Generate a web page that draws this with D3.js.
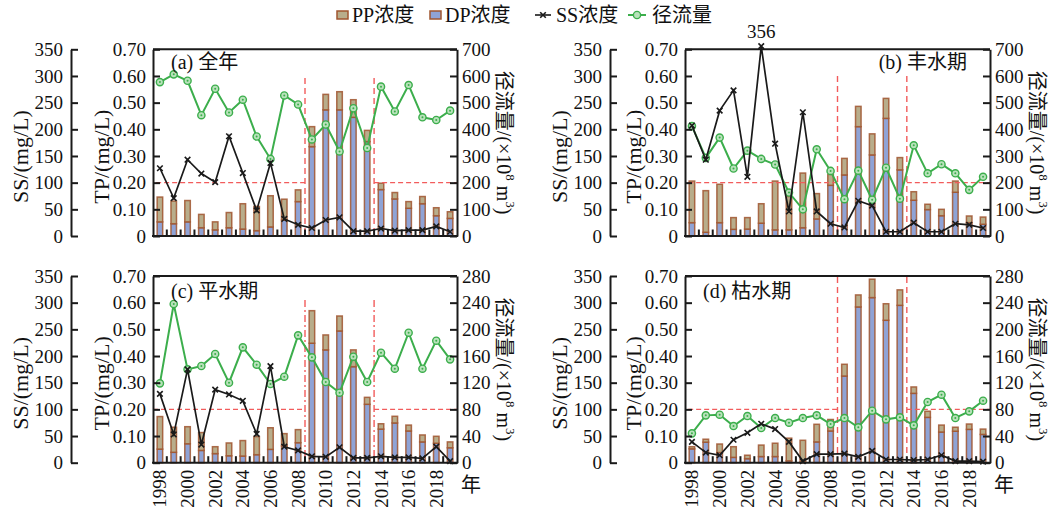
<!DOCTYPE html>
<html><head><meta charset="utf-8">
<script src="https://cdn.jsdelivr.net/npm/d3@7/dist/d3.min.js"></script>
<style>
body{margin:0;background:#fff}
svg{display:block}
text{font-family:"Liberation Serif","Times New Roman","Noto Sans CJK SC",serif;fill:#111}
</style>
</head><body>
<svg id="chart" width="1054" height="510"></svg>
<script>
// ---------------- data ----------------
const years = [1998,1999,2000,2001,2002,2003,2004,2005,2006,2007,2008,2009,2010,2011,2012,2013,2014,2015,2016,2017,2018,2019];
const yearTicks = [1998,2000,2002,2004,2006,2008,2010,2012,2014,2016,2018];
const ssTicks = [0,50,100,150,200,250,300,350];
const tpTicks = [0,0.1,0.2,0.3,0.4,0.5,0.6,0.7];
const runoffTicksAB = [0,100,200,300,400,500,600,700];
const runoffTicksCD = [0,40,80,120,160,200,240,280];
const tpLimit = 0.2;
const breakYears = [2009, 2014];   // dashed lines drawn before these years
const seriesNames = ["PP浓度","DP浓度","SS浓度","径流量"];
const panelTitles = ["(a) 全年","(b) 丰水期","(c) 平水期","(d) 枯水期"];

// (a) whole year
const dpA = [0.053,0.046,0.053,0.031,0.023,0.031,0.026,0.020,0.034,0.060,0.129,0.335,0.473,0.473,0.445,0.354,0.174,0.139,0.104,0.121,0.076,0.066];
const ppA = [0.093,0.085,0.080,0.050,0.030,0.057,0.095,0.091,0.117,0.078,0.044,0.075,0.058,0.068,0.066,0.042,0.024,0.024,0.025,0.027,0.030,0.025];
const ssA = [127,71,143,117,101,187,118,48,137,32,21,15,30,35,9,9,14,10,11,11,18,8];
const runoffA = [577,606,582,453,552,463,511,373,289,527,493,362,418,317,479,330,560,467,566,445,435,470];
// (b) wet season
const dpB = [0.050,0.014,0.050,0.025,0.026,0.048,0.023,0.023,0.031,0.064,0.190,0.229,0.410,0.304,0.441,0.248,0.134,0.099,0.076,0.164,0.050,0.044];
const ppB = [0.156,0.156,0.144,0.044,0.043,0.073,0.183,0.125,0.205,0.095,0.041,0.062,0.076,0.079,0.075,0.046,0.032,0.020,0.024,0.042,0.025,0.027];
const ssB = [207,143,235,273,111,356,173,46,232,46,23,16,66,57,8,8,25,8,8,23,21,15];
const runoffB = [412,293,369,253,320,289,268,163,100,325,244,138,245,136,256,140,340,235,269,235,173,222];
// (c) normal season
const dpC = [0.051,0.039,0.071,0.046,0.034,0.026,0.025,0.030,0.050,0.063,0.075,0.448,0.423,0.494,0.360,0.219,0.126,0.149,0.119,0.078,0.073,0.056];
const ppC = [0.122,0.094,0.064,0.067,0.026,0.048,0.058,0.068,0.081,0.046,0.049,0.122,0.056,0.056,0.063,0.026,0.020,0.025,0.022,0.026,0.026,0.022];
const ssC = [129,53,175,34,137,128,116,54,181,30,23,12,11,29,9,9,12,10,10,8,30,3];
const runoffC = [119,238,140,145,163,120,173,147,118,129,191,158,121,105,159,121,165,141,195,141,183,155];
// (d) dry season
const dpD = [0.052,0.077,0.038,0.020,0.015,0.023,0.023,0.007,0.003,0.078,0.119,0.325,0.584,0.619,0.534,0.590,0.260,0.170,0.115,0.118,0.125,0.106];
const ppD = [0.008,0.011,0.032,0.040,0.013,0.043,0.050,0.085,0.081,0.066,0.043,0.044,0.045,0.069,0.062,0.058,0.024,0.023,0.026,0.015,0.020,0.020];
const ssD = [39,19,14,43,56,73,63,39,3,16,16,17,11,22,6,6,5,6,14,3,3,2];
const runoffD = [44,71,72,55,70,52,67,60,67,71,58,67,53,78,65,68,56,91,102,67,77,93];

// ---------------- style & layout ----------------
const C = {pp:"#b8ad8b", dp:"#8fa3d6", barStroke:"#a0552f", green:"#3cae4c", greenFill:"#b9e2bb", red:"#f25c5c", black:"#1a1a1a"};
const panels = [
  {title:panelTitles[0], dp:dpA, pp:ppA, ss:ssA, runoff:runoffA, rTicks:runoffTicksAB,
   x0:153, x1:457, yTop:49.3, yBot:236, ssX:71, vTop:78, hStart:"band", vDash:"6,4", xLabels:false,
   titleX:171, titleAnchor:"start", titleY:69},
  {title:panelTitles[1], dp:dpB, pp:ppB, ss:ssB, runoff:runoffB, rTicks:runoffTicksAB,
   x0:685, x1:990, yTop:49.3, yBot:236, ssX:610, vTop:76, hStart:"band", vDash:"6,4", xLabels:false,
   titleX:967, titleAnchor:"end", titleY:69, peakLabel:true},
  {title:panelTitles[2], dp:dpC, pp:ppC, ss:ssC, runoff:runoffC, rTicks:runoffTicksCD,
   x0:153, x1:457, yTop:276, yBot:462.7, ssX:71, vTop:300, hStart:"edge", vDash:"7,3,2,3", xLabels:true,
   titleX:171, titleAnchor:"start", titleY:298},
  {title:panelTitles[3], dp:dpD, pp:ppD, ss:ssD, runoff:runoffD, rTicks:runoffTicksCD,
   x0:685, x1:990, yTop:276, yBot:462.7, ssX:610, vTop:277, hStart:"band", vDash:"6,4", xLabels:true,
   titleX:703, titleAnchor:"start", titleY:298}
];

const svg = d3.select("#chart");
const FS = 19;

function styleAxis(sel){
  sel.select(".domain").attr("stroke", C.black).attr("stroke-width", 2);
  sel.selectAll(".tick line").attr("stroke", C.black).attr("stroke-width", 2);
  sel.selectAll(".tick text").attr("font-size", FS).attr("fill", "#111")
     .style("font-family", '"Liberation Serif","Times New Roman",serif');
}

function drawPanel(p){
  const g = svg.append("g");
  const x = d3.scaleBand().domain(years).range([p.x0, p.x1]).paddingInner(0.6).paddingOuter(0.3);
  const step = x.step();
  const cx = yr => x(yr) + x.bandwidth()/2;
  const boundary = yr => x(yr) - step*0.3;
  const yTP = d3.scaleLinear().domain([0, tpTicks[tpTicks.length-1]]).range([p.yBot, p.yTop]);
  const ySS = d3.scaleLinear().domain([0, ssTicks[ssTicks.length-1]]).range([p.yBot, p.yTop]);
  const yR = d3.scaleLinear().domain([0, p.rTicks[p.rTicks.length-1]]).range([p.yBot, p.yTop]);

  // bars (stacked DP + PP)
  const rows = years.map((yr,i)=>({year:yr, dp:p.dp[i], pp:p.pp[i]}));
  const stacked = d3.stack().keys(["dp","pp"])(rows);
  g.append("g").selectAll("g").data(stacked).join("g")
    .attr("fill", d => d.key === "dp" ? C.dp : C.pp)
    .selectAll("rect").data(d => d).join("rect")
    .attr("x", d => x(d.data.year)).attr("width", x.bandwidth())
    .attr("y", d => yTP(d[1])).attr("height", d => Math.max(0, yTP(d[0]) - yTP(d[1])))
    .attr("stroke", C.barStroke).attr("stroke-width", 1.5).attr("stroke-opacity", 0.85);

  // red reference lines
  const vx = breakYears.map(boundary);
  const hy = yTP(tpLimit);
  const hs = p.hStart === "edge" ? p.x0 : x(years[0]) - 1;
  const red = g.append("g").attr("stroke", C.red).attr("stroke-width", 1.4).attr("fill","none");
  red.append("line").attr("x1", hs).attr("x2", vx[0]).attr("y1", hy).attr("y2", hy).attr("stroke-dasharray","5,3");
  red.append("line").attr("x1", vx[1]).attr("x2", p.x1).attr("y1", hy).attr("y2", hy).attr("stroke-dasharray","5,3");
  vx.forEach(v => red.append("line").attr("x1", v).attr("x2", v).attr("y1", p.vTop).attr("y2", p.yBot).attr("stroke-dasharray", p.vDash));

  // runoff line
  const lineR = d3.line().x((d,i)=>cx(years[i])).y(d=>yR(d));
  g.append("path").datum(p.runoff).attr("d", lineR).attr("fill","none").attr("stroke", C.green).attr("stroke-width", 2);
  const rm = g.append("g").selectAll("g").data(p.runoff).join("g")
    .attr("transform", (d,i)=>`translate(${cx(years[i])},${yR(d)})`);
  rm.append("circle").attr("r", 3.6).attr("fill", C.greenFill).attr("stroke", C.green).attr("stroke-width", 1.4);
  rm.append("circle").attr("r", 1).attr("fill", C.green);

  // SS line
  const lineS = d3.line().x((d,i)=>cx(years[i])).y(d=>ySS(d));
  g.append("path").datum(p.ss).attr("d", lineS).attr("fill","none").attr("stroke", C.black).attr("stroke-width", 1.7);
  const sm = d3.symbol().type(d3.symbolX).size(22);
  g.append("g").selectAll("path").data(p.ss).join("path")
    .attr("d", sm).attr("transform", (d,i)=>`translate(${cx(years[i])},${ySS(d)})`)
    .attr("fill","none").attr("stroke", C.black).attr("stroke-width", 1.6);

  if (p.peakLabel){
    const iMax = d3.maxIndex(p.ss);
    g.append("text").attr("x", cx(years[iMax])).attr("y", ySS(p.ss[iMax]) - 8)
      .attr("text-anchor","middle").attr("font-size", FS).text(d3.format("d")(p.ss[iMax]));
  }

  // frame: top and bottom lines
  g.append("line").attr("x1", p.x0).attr("x2", p.x1).attr("y1", p.yTop).attr("y2", p.yTop).attr("stroke", C.black).attr("stroke-width", 2);
  g.append("line").attr("x1", p.x0-1).attr("x2", p.x1+1).attr("y1", p.yBot).attr("y2", p.yBot).attr("stroke", C.black).attr("stroke-width", 2);

  // bottom inner ticks at band boundaries
  g.append("g").selectAll("line").data(years.slice(1)).join("line")
    .attr("x1", d=>boundary(d)).attr("x2", d=>boundary(d))
    .attr("y1", p.yBot).attr("y2", p.yBot-6.5).attr("stroke", C.black).attr("stroke-width", 2);

  // axes
  const tpFmt = d => d === 0 ? "0" : d3.format(".2f")(d);
  g.append("g").attr("transform", `translate(${p.ssX},0)`)
    .call(d3.axisLeft(ySS).tickValues(ssTicks).tickSize(-7).tickSizeOuter(0).tickPadding(8).tickFormat(d3.format("d")))
    .call(styleAxis);
  g.append("g").attr("transform", `translate(${p.x0},0)`)
    .call(d3.axisLeft(yTP).tickValues(tpTicks).tickSize(-7).tickSizeOuter(0).tickPadding(7).tickFormat(tpFmt))
    .call(styleAxis);
  g.append("g").attr("transform", `translate(${p.x1},0)`)
    .call(d3.axisRight(yR).tickValues(p.rTicks).tickSize(-7).tickSizeOuter(0).tickPadding(5).tickFormat(d3.format("d")))
    .call(styleAxis);

  // axis titles
  const midY = (p.yTop + p.yBot)/2;
  g.append("text").attr("transform", `translate(${p.ssX-51},${midY+14}) rotate(-90)`)
    .attr("text-anchor","middle").attr("dominant-baseline","central").attr("font-size", 22).text("SS/(mg/L)");
  g.append("text").attr("transform", `translate(${p.x0-52},${midY+14}) rotate(-90)`)
    .attr("text-anchor","middle").attr("dominant-baseline","central").attr("font-size", 22).text("TP/(mg/L)");
  const rt = g.append("text").attr("transform", `translate(${p.x1+47},${midY}) rotate(90)`)
    .attr("text-anchor","middle").attr("dominant-baseline","central").attr("font-size", 20);
  rt.append("tspan").text("径流量/(×10");
  rt.append("tspan").attr("font-size", 13).attr("dy", -7).text("8");
  rt.append("tspan").attr("dy", 7).text(" m");
  rt.append("tspan").attr("font-size", 13).attr("dy", -7).text("3");
  rt.append("tspan").attr("dy", 7).text(")");

  // x labels
  if (p.xLabels){
    g.append("g").selectAll("text").data(yearTicks).join("text")
      .attr("transform", d => `translate(${cx(d)},${p.yBot+7}) rotate(-90)`)
      .attr("text-anchor","end").attr("dominant-baseline","central").attr("font-size", FS).text(d=>d);
    g.append("text").attr("x", p.x1+4).attr("y", p.yBot+29).attr("font-size", 20).attr("text-anchor","start").text("年");
  }

  // panel title
  g.append("text").attr("x", p.titleX).attr("y", p.titleY).attr("text-anchor", p.titleAnchor)
    .attr("font-size", 20).text(p.title);
}

panels.forEach(drawPanel);

// legend
const lg = svg.append("g");
const ly = 15;
lg.append("rect").attr("x",337).attr("y",ly-4).attr("width",11).attr("height",8).attr("fill",C.pp).attr("stroke",C.barStroke).attr("stroke-width",1.5);
lg.append("text").attr("x",352).attr("y",ly).attr("dominant-baseline","central").attr("font-size",20).text(seriesNames[0]);
lg.append("rect").attr("x",430).attr("y",ly-4).attr("width",11).attr("height",8).attr("fill",C.dp).attr("stroke",C.barStroke).attr("stroke-width",1.5);
lg.append("text").attr("x",445).attr("y",ly).attr("dominant-baseline","central").attr("font-size",20).text(seriesNames[1]);
lg.append("line").attr("x1",535).attr("x2",551).attr("y1",ly).attr("y2",ly).attr("stroke",C.black).attr("stroke-width",1.6);
lg.append("path").attr("d", d3.symbol().type(d3.symbolX).size(22)).attr("transform",`translate(543,${ly})`).attr("stroke",C.black).attr("stroke-width",1.6).attr("fill","none");
lg.append("text").attr("x",556).attr("y",ly).attr("dominant-baseline","central").attr("font-size",20).text(seriesNames[2]);
lg.append("line").attr("x1",628).attr("x2",646).attr("y1",ly).attr("y2",ly).attr("stroke",C.green).attr("stroke-width",2);
lg.append("circle").attr("cx",637).attr("cy",ly).attr("r",3.6).attr("fill",C.greenFill).attr("stroke",C.green).attr("stroke-width",1.4);
lg.append("text").attr("x",652).attr("y",ly).attr("dominant-baseline","central").attr("font-size",20).text(seriesNames[3]);
</script>
</body></html>
